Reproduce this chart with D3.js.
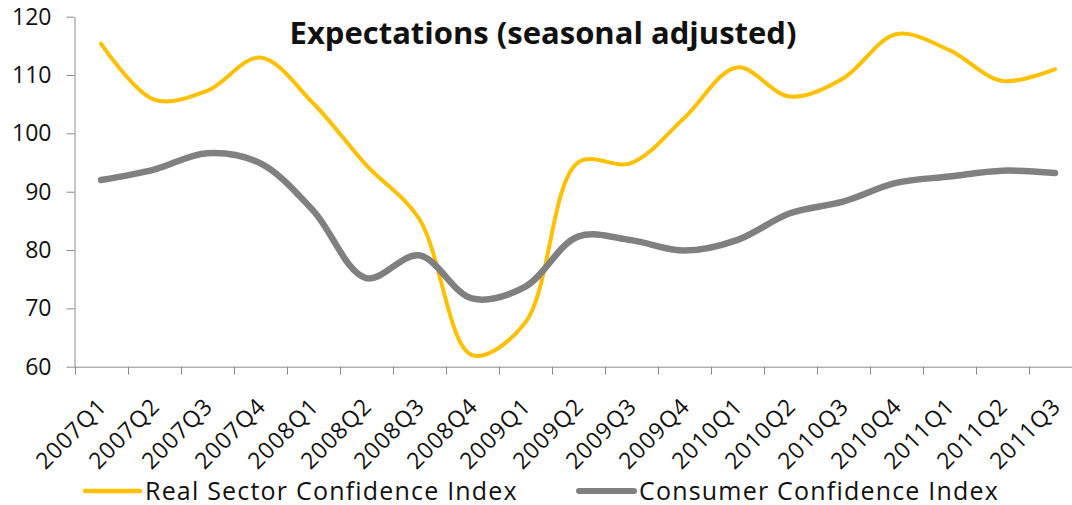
<!DOCTYPE html>
<html>
<head>
<meta charset="utf-8">
<script src="https://cdn.jsdelivr.net/npm/d3@7"></script>
<style>
  body { margin: 0; background: #fff; }
  text { font-family: "Open Sans", Lato, sans-serif; fill: #111; }
</style>
</head>
<body>
<div id="chart"></div>
<script>
// quarters on the x axis
var quarters = ["2007Q1", "2007Q2", "2007Q3", "2007Q4", "2008Q1", "2008Q2", "2008Q3", "2008Q4",
  "2009Q1", "2009Q2", "2009Q3", "2009Q4", "2010Q1", "2010Q2", "2010Q3", "2010Q4",
  "2011Q1", "2011Q2", "2011Q3"];

// series values
var realSector = [115.4, 105.8, 107.3, 113.0, 105.2, 94.6, 85.4, 62.0, 67.5, 95.0, 94.9, 102.6,
  111.3, 106.3, 109.4, 117.0, 114.3, 109.0, 111.0];
var consumer = [92.0, 93.8, 96.6, 94.9, 86.8, 75.2, 79.1, 71.7, 73.7, 82.3, 81.7, 79.9,
  81.7, 86.3, 88.3, 91.5, 92.6, 93.6, 93.2];

var yTicks = [60, 70, 80, 90, 100, 110, 120];
var seriesNames = ["Real Sector Confidence Index", "Consumer Confidence Index"];
var seriesColors = ["#FFC000", "#808080"];

var width = 1072, height = 505;

var svg = d3.select("#chart")
  .append("svg")
  .attr("width", width)
  .attr("height", height);

// plot area runs a bit past the right edge, like the cropped original
var x = d3.scaleBand()
  .domain(quarters)
  .range([74.5, 74.5 + 19 * 53]);

var y = d3.scaleLinear()
  .domain([60, 120])
  .range([366.7, 16.7]);

var axisColor = "#8c8c8c";

// y axis
var yAxis = svg.append("g")
  .attr("transform", "translate(74.5,0)")
  .call(d3.axisLeft(y).tickValues(yTicks).tickSize(8).tickSizeOuter(0).tickPadding(15));
yAxis.select(".domain").attr("stroke", axisColor);
yAxis.selectAll(".tick line").attr("stroke", axisColor);
yAxis.selectAll(".tick text")
  .style("font-size", "23px")
  .style("font-family", "'Open Sans', sans-serif")
  .attr("fill", "#111");

// x axis line + ticks on band edges
svg.append("line")
  .attr("x1", x.range()[0]).attr("x2", x.range()[1])
  .attr("y1", y(60) + 0.5).attr("y2", y(60) + 0.5)
  .attr("stroke", axisColor);

svg.selectAll(".xtick")
  .data(quarters)
  .enter()
  .append("line")
  .attr("class", "xtick")
  .attr("x1", function (d) { return Math.round(x(d)) + 0.5; })
  .attr("x2", function (d) { return Math.round(x(d)) + 0.5; })
  .attr("y1", y(60))
  .attr("y2", y(60) + 8)
  .attr("stroke", axisColor);

// rotated quarter labels
svg.selectAll(".xlabel")
  .data(quarters)
  .enter()
  .append("text")
  .attr("class", "xlabel")
  .attr("text-anchor", "end")
  .attr("transform", function (d) {
    return "translate(" + (x(d) + x.bandwidth() / 2 + 7) + ",408) rotate(-45)";
  })
  .style("font-size", "23px")
  .style("letter-spacing", "0.8px")
  .text(function (d) { return d; });

// lines, smoothed like excel
var line = d3.line()
  .x(function (d, i) { return x(quarters[i]) + x.bandwidth() / 2; })
  .y(function (d) { return y(d); })
  .curve(d3.curveCatmullRom.alpha(0.5));

svg.append("path")
  .datum(realSector)
  .attr("d", line)
  .attr("fill", "none")
  .attr("stroke", seriesColors[0])
  .attr("stroke-width", 4)
  .attr("stroke-linecap", "round");

svg.append("path")
  .datum(consumer)
  .attr("d", line)
  .attr("fill", "none")
  .attr("stroke", seriesColors[1])
  .attr("stroke-width", 6.5)
  .attr("stroke-linecap", "round");

// title
svg.append("text")
  .attr("x", 543)
  .attr("y", 43.5)
  .attr("text-anchor", "middle")
  .style("font-size", "31px")
  .style("font-weight", "bold")
  .text("Expectations (seasonal adjusted)");

// legend
var legendX = [85, 579];
var legend = svg.selectAll(".legend")
  .data(seriesNames)
  .enter()
  .append("g")
  .attr("class", "legend")
  .attr("transform", function (d, i) { return "translate(" + legendX[i] + ",491)"; });

legend.append("line")
  .attr("x1", 0).attr("x2", 55)
  .attr("stroke", function (d, i) { return seriesColors[i]; })
  .attr("stroke-width", function (d, i) { return i === 0 ? 4.5 : 6; })
  .attr("stroke-linecap", "round");

legend.append("text")
  .attr("x", 60)
  .attr("y", 8.5)
  .style("font-size", "25px")
  .style("letter-spacing", "1.2px")
  .text(function (d) { return d; });
</script>
</body>
</html>
